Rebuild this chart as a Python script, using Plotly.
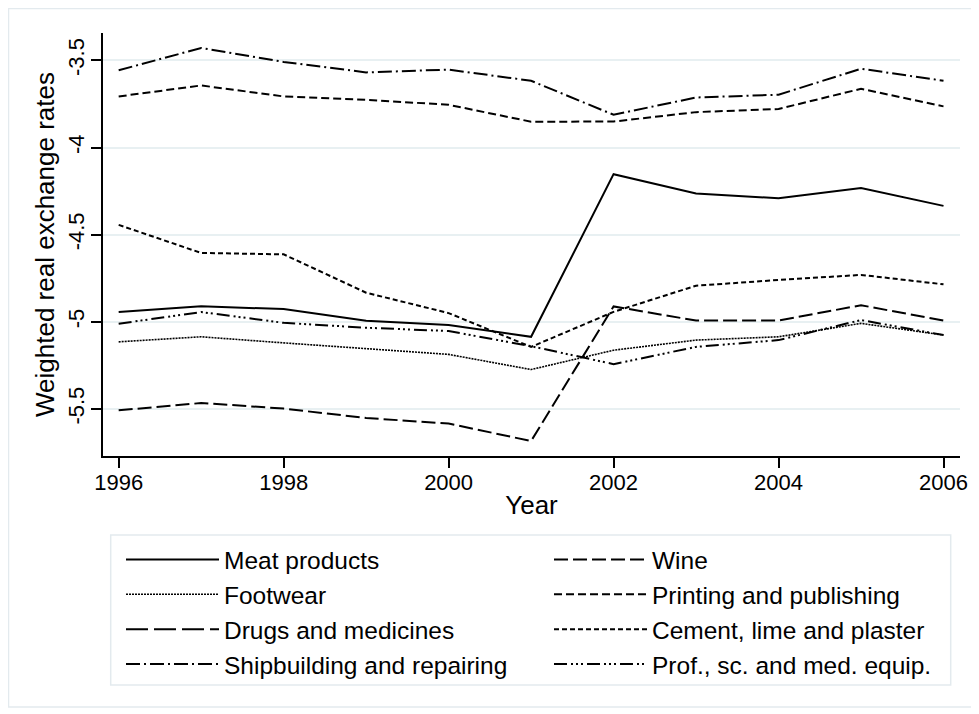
import plotly.graph_objects as go

years = [1996, 1997, 1998, 1999, 2000, 2001, 2002, 2003, 2004, 2005, 2006]

meat = [-4.944, -4.911, -4.927, -4.994, -5.019, -5.086, -4.153, -4.264, -4.291, -4.233, -4.335]
wine = [-5.508, -5.466, -5.498, -5.552, -5.584, -5.684, -4.912, -4.993, -4.993, -4.905, -4.993]
footwear = [-5.115, -5.086, -5.121, -5.153, -5.187, -5.274, -5.163, -5.105, -5.086, -5.009, -5.076]
printing = [-3.707, -3.644, -3.707, -3.726, -3.755, -3.852, -3.851, -3.797, -3.779, -3.663, -3.764]
drugs = [None] * 11
cement = [-4.444, -4.605, -4.613, -4.833, -4.950, -5.144, -4.943, -4.793, -4.760, -4.731, -4.785]
shipbuilding = [-3.557, -3.429, -3.509, -3.569, -3.553, -3.617, -3.812, -3.713, -3.697, -3.548, -3.617]
prof = [-5.011, -4.944, -5.006, -5.034, -5.053, -5.140, -5.243, -5.144, -5.105, -4.990, -5.076]

names = ["Meat products", "Wine", "Footwear", "Printing and publishing",
         "Drugs and medicines", "Cement, lime and plaster",
         "Shipbuilding and repairing", "Prof., sc. and med. equip."]
series = [meat, wine, footwear, printing, drugs, cement, shipbuilding, prof]
dashes = ["solid", "14px,5px", "2px,1px", "8px,4px", "22px,6px", "5px,3px",
          "14px,4px,2px,4px", "13px,4px,2px,3px,2px,3px,2px,4px"]
widths = [2, 2, 1.6, 2, 2, 2, 2, 2]
legend_col = ["legend", "legend2", "legend", "legend2",
              "legend", "legend2", "legend", "legend2"]

ytick_vals = [-5.5, -5, -4.5, -4, -3.5]
ytick_text = ["-5.5", "-5", "-4.5", "-4", "-3.5"]
xtick_vals = [1996, 1998, 2000, 2002, 2004, 2006]

FONT = "Liberation Sans, Arial, sans-serif"

fig = go.Figure()
for nm, ys, ds, w, lg in zip(names, series, dashes, widths, legend_col):
    fig.add_trace(go.Scatter(x=years, y=ys, mode="lines", name=nm, legend=lg,
                             line=dict(color="black", width=w, dash=ds)))

# figure pixel -> paper helpers (page body adds an 8px offset on screen)
L, R, T, B = 95, 952, 25, 448
W, H = R - L, B - T
px = lambda v: (v - L) / W
py = lambda v: (B - v) / H

leg_common = dict(orientation="v", yanchor="top", xanchor="left",
                  itemwidth=93, font=dict(size=24.5), bgcolor="rgba(0,0,0,0)",
                  borderwidth=0, traceorder="normal", tracegroupgap=0)

fig.update_layout(
    width=979, height=714,
    margin=dict(l=L, r=979 - R, t=T, b=714 - B, autoexpand=False),
    paper_bgcolor="white", plot_bgcolor="white",
    font=dict(family=FONT, size=22, color="black"),
    showlegend=True,
    legend=dict(x=px(113), y=py(529), **leg_common),
    legend2=dict(x=px(541), y=py(529), **leg_common),
    xaxis=dict(range=[1995.81, 2006.2], tickvals=xtick_vals, ticks="outside",
               ticklen=10, tickwidth=1.5, tickcolor="black", showline=True,
               linecolor="black", linewidth=1.5, showgrid=False, zeroline=False,
               ticklabelstandoff=-4,
               title=dict(text="Year", standoff=2), tickfont=dict(size=22)),
    yaxis=dict(range=[-5.770, -3.343], tickvals=ytick_vals, ticktext=ytick_text,
               tickangle=-90, ticks="outside", ticklen=10, tickwidth=1.5,
               tickcolor="black", showline=True, linecolor="black", linewidth=1.5,
               showgrid=True, gridcolor="#e8f0f2", gridwidth=2, zeroline=False,
               ticklabelstandoff=-2,
               title=dict(text="Weighted real exchange rates", standoff=2),
               tickfont=dict(size=22)),
    shapes=[
        dict(type="rect", xref="paper", yref="paper", x0=px(0.5), x1=px(964),
             y0=py(699), y1=py(0.5), line=dict(color="#e3eaee", width=1.5), layer="below"),
        dict(type="rect", xref="paper", yref="paper", x0=px(102.7), x1=px(942.7),
             y0=py(677), y1=py(527), line=dict(color="#e3eaee", width=1.5), layer="below"),
    ],
)

fig.write_html("out.html")
